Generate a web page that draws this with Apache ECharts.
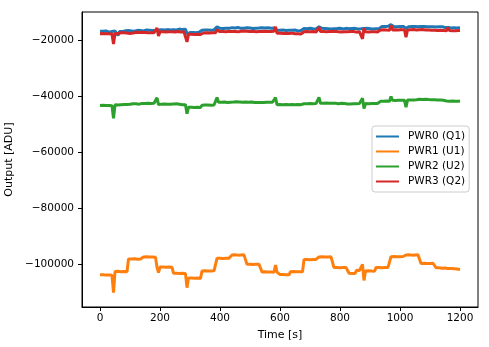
<!DOCTYPE html>
<html>
<head>
<meta charset="utf-8">
<script src="https://cdn.jsdelivr.net/npm/echarts@6/dist/echarts.min.js"></script>
<style>html,body{margin:0;padding:0;background:#fff}#c{width:489px;height:347px}</style>
</head>
<body>
<div id="c"></div>
<script>
// Sampling interval of the readings below, seconds (t = 0 ... 1200)
const SAMPLE_STEP_S = 5;

const seriesNames = ['PWR0 (Q1)', 'PWR1 (U1)', 'PWR2 (U2)', 'PWR3 (Q2)'];
const xTicks = [0, 200, 400, 600, 800, 1000, 1200];
const yTicks = [-100000, -80000, -60000, -40000, -20000];

const pwr0 = [
-16650,-16950,-16700,-16900,-16600,-16850,-17000,-16750,-16800,
-17300,
-16600,-16800,
-18200,
-16750,-16550,-16800,-16600,-16500,-16700,-16450,-16650,-16550,-16400,-16700,-16500,-16350,-16600,-16450,-16300,-16550,-16400,-16250,-16500,-16350,-16200,-16450,-16300,-16400,
-15700,
-16200,-15950,-16150,-16000,-16250,-15900,-16100,-16050,-16200,-15950,-16150,-16000,-16250,-16050,-15900,-16150,-16100,-16250,-16000,
-17600,
-16900,-17150,-16850,-17100,-16950,-17200,-16900,-17050,-16950,
-16300,-16450,-16200,-16400,-16250,-16500,-16300,-16400,-16200,-16350,
-15100,
-15450,-15650,-15500,-15700,-15400,-15600,-15450,-15650,-15550,-15400,-15700,-15500,-15600,-15350,-15550,-15650,-15450,-15600,-15500,-15400,-15650,-15550,-15450,-15700,-15500,-15600,-15400,-15550,-15650,-15450,-15600,-15500,-15700,-15450,-15550,-15600,-15400,-15550,
-15000,
-16300,-16500,-16350,-16550,-16250,-16450,-16400,-16600,-16300,-16450,-16350,-16500,-16250,-16400,-16550,-16350,-16450,-16300,
-15700,-15900,-15750,-15850,-15650,-15900,-15800,-15700,-15850,-15750,
-15100,
-15800,-15650,-15850,-15700,-15600,-15800,-15750,-15900,-15650,-15750,-15850,-15700,-15800,-15600,-15750,-15850,-15700,-15650,-15800,-15750,-15900,-15700,-15800,-15650,-15750,-15850,-15700,-15800,
-15200,
-15700,-15850,-15650,-15800,-15750,-15600,-15850,-15700,-15800,-15650,-15750,
-15100,-14950,-15150,-15000,-15200,-14900,-15050,
-14300,
-14950,-15100,-14900,-15050,-14850,-15000,-15150,-14950,-15050,-15600,-14900,-15050,-14850,-15000,-14800,-14950,-14850,-15050,-14800,-14950,-14850,-15000,-14900,-15100,-14950,-15050,-14900,-15100,-15000,-15150,-14950,-15100,-15200,-15050,-15250,
-15350,-15500,-15300,-15450,-15550,-15350,-15450,-15300,-15500,-15400,-15450
];

const pwr1 = [
-103800,-104150,-103750,-104050,-103900,-104200,-103850,-104000,-103950,
-110200,
-102600,-102900,-102550,-102850,-102700,-102950,-102600,-102800,-102700,
-98100,-98400,-98150,-98350,-98050,-98300,-98200,-98450,-98150,-98300,
-97400,-97650,-97350,-97550,-97450,-97700,-97400,-97600,-97500,
-101100,-103000,-101000,-101250,-100950,-101200,-101050,-101300,-101000,-101150,-101100,
-103200,-103500,-103250,-103450,-103300,-103550,-103250,-103400,-103350,
-108400,
-104900,-105250,-104950,-105300,-105000,-105200,-104950,-105250,-105100,
-102400,-102650,-102350,-102600,-102450,-102700,-102400,-102550,-102350,-102500,
-97900,-98150,-97850,-98100,-97950,-98200,-97900,-98050,-97850,-98000,
-96700,-96950,-96650,-96900,-96750,-97000,-96700,-96850,-96650,-96800,
-100050,-100300,-100000,-100250,-100100,-100350,-100050,-100200,-100000,-100150,
-102750,-103000,-102700,-102950,-102800,-103050,-102750,-102900,-102850,-100300,-102800,-102950,
-103700,-103950,-103650,-103900,-103750,-104000,-103800,
-102650,-102900,-102600,-102850,-102700,-102950,-102650,-102800,-102700,
-98350,-98600,-98300,-98550,-98400,-98650,-98350,-98500,-98300,-98450,
-97400,-97650,-97350,-97600,-97450,-97700,-97400,-97550,-97350,-97500,
-101200,-101450,-101150,-101400,-101250,-101500,-101200,-101350,-101150,-101300,
-103250,-103500,-103300,-103450,-103350,
-102200,-102450,-102250,-102400,
-100100,-105800,
-102400,-102650,-102350,-102600,-102450,-102700,-102500,
-101200,-101450,-101150,-101400,-101250,-101500,-101200,-101350,-101150,-101300,
-97300,-97550,-97250,-97500,-97350,-97600,-97300,-97450,-97250,-97400,
-96700,-96950,-96650,-96900,-96750,-97000,-96700,-96850,-96650,-96800,
-99700,-99950,-99650,-99900,-99750,-100000,-99700,-99850,-99650,-99800,
-101250,-101500,-101300,-101550,-101400,-101600,-101350,-101650,-101500,-101700,-101550,-101800,-101600,-101850,-101700,-101950,-101850
];

const pwr2 = [
-43200,-43450,-43150,-43400,-43250,-43500,-43200,-43350,-43300,
-47800,
-43000,-42850,-43050,-42800,-42950,-42750,-42900,-42700,-42850,-42650,-42800,-42750,-42600,-42850,-42650,-42550,-42750,-42600,-42500,-42700,-42550,-42650,-42450,-42600,-42500,-42650,-42450,-42550,
-40500,
-42900,-42600,-42750,-42550,-42700,-42600,-42800,-42650,-42750,-42550,-42700,-42850,-42650,-42900,-42800,-43050,-42950,-43150,-43000,
-46200,
-43900,-44150,-43850,-44100,-43950,-44200,-43900,-44050,-43950,
-43150,-43300,-43050,-43250,-43100,-43350,-43150,-43250,-43050,-43200,
-40400,
-42050,-41900,-42100,-41850,-42000,-41950,-42150,-41900,-42050,-41850,-42000,-42100,-41900,-42050,-41950,-41850,-42100,-41950,-42000,-41900,-42050,-42150,-42000,-42250,-42200,-42350,-42150,-42300,-42200,-42400,-42200,-42300,-42100,-42250,-42050,-42200,-42100,-42250,
-40400,
-42950,-43100,-42900,-43150,-42950,-43050,-42850,-43100,-43000,-43150,-42900,-43050,-42950,-43100,-42850,-43000,-42950,-42800,
-42600,-42450,-42650,-42400,-42550,-42450,-42600,-42350,-42550,-42450,
-40300,
-42450,-42600,-42400,-42550,-42350,-42500,-42450,-42600,-42400,-42550,-42450,-42350,-42600,-42500,-42450,-42600,-42550,-42750,-42700,-42850,-42700,-42800,-42650,-42850,-42600,-42700,-42550,-42650,
-40600,
-44300,-42550,-42400,-42600,-42450,-42550,-42350,-42500,-42400,-42550,-42350,
-41750,-41900,-41700,-41850,-41650,-41800,-41750,
-40000,
-41400,-41250,-41450,-41300,-41400,-41200,-41350,-41250,-41400,-43800,-41300,-41150,-41300,-41100,-41250,-41050,-41200,-41100,-41000,-41200,-41050,-41150,-41000,-41200,-41100,-41250,-41150,-41300,-41200,-41350,-41250,-41400,-41300,-41450,-41350,
-41500,-41650,-41550,-41700,-41500,-41650,-41600,-41750,-41550,-41700,-41650
];

const pwr3 = [
-17550,-17800,-17500,-17750,-17600,-17850,-17550,-17700,-17650,
-21300,
-17400,-17200,
-17600,
-17350,-17150,-17400,-17250,-17100,-17350,-17200,-17450,-17150,-17300,-17200,-17050,-17350,-17150,-17250,-17050,-17300,-17150,-17000,-17250,-17100,-17200,-17000,-17250,-17100,
-15500,
-18400,-16900,-17100,-16850,-17050,-16950,-17150,-16900,-17050,-16850,-17100,-16950,-17000,-16800,-17100,-16950,-17050,-16900,-17100,
-20500,
-17800,-18050,-17750,-18000,-17850,-18100,-17800,-17950,-17850,
-17150,-17300,-17050,-17250,-17100,-17350,-17150,-17250,-17050,-17200,
-16200,
-16650,-16800,-16550,-16750,-16600,-16850,-16650,-16700,-16550,-16800,-16600,-16750,-16650,-16900,-16550,-16700,-16800,-16600,-16750,-16650,-16500,-16800,-16650,-16700,-16550,-16850,-16600,-16750,-16650,-16800,-16550,-16700,-16650,-16800,-16600,-16750,-16650,-16700,
-15100,
-17400,-17600,-17350,-17550,-17450,-17650,-17400,-17550,-17500,-17700,-17350,-17500,-17600,-17400,-17550,-17450,-17650,-17400,
-16850,-16950,-16800,-17000,-16850,-16950,-16750,-16900,-17000,-16850,
-15300,
-16800,-16950,-16750,-16900,-16850,-17000,-16750,-16900,-16800,-16950,-16700,-16850,-16900,-16750,-16950,-16800,-16900,-16700,-16850,-16950,-16800,-16900,-16750,-16850,-17000,-16800,-16900,-16750,
-19400,
-15600,-16900,-16750,-16950,-16800,-16850,-16700,-16900,-16800,-16950,-16800,
-16200,-16350,-16150,-16300,-16250,-16100,-16300,
-14600,
-16200,-16350,-16150,-16300,-16200,-16350,-16100,-16300,-16250,-18800,-16200,-16300,-16150,-16250,-16100,-16300,-16200,-16350,-16150,-16250,-16100,-16300,-16200,-16350,-16250,-16150,-16300,-16200,-16350,-16250,-16400,-16200,-16350,-16300,-16450,
-16400,-16550,-15400,-16450,-16350,-16550,-16400,-16500,-16350,-16450,-16400
];

const colors = ['#1f77b4', '#ff7f0e', '#2ca02c', '#d62728'];
const allValues = [pwr0, pwr1, pwr2, pwr3];
const sampleTimes = pwr0.map((_, i) => i * SAMPLE_STEP_S);

const FONT = 'DejaVu Sans';
const fmtMinus = v => String(v).replace('-', '\u2212');

const chart = echarts.init(document.getElementById('c'), null, { renderer: 'canvas' });
chart.setOption({
  animation: false,
  backgroundColor: '#fff',
  grid: {
    left: 82, right: 11, top: 12, bottom: 40,
    outerBoundsMode: 'none',
    show: true, borderColor: '#000', borderWidth: 1, backgroundColor: 'transparent'
  },
  legend: {
    orient: 'vertical',
    left: 372, top: 126,
    padding: [4, 4, 4, 4],
    itemGap: 2,
    itemWidth: 23, itemHeight: 2,
    icon: 'rect',
    borderColor: '#cccccc', borderWidth: 1, borderRadius: 3,
    backgroundColor: 'rgba(255,255,255,0.8)',
    textStyle: { fontFamily: FONT, fontSize: 10.5, color: '#000', lineHeight: 13, padding: [0, 0, 0, 4] },
    data: seriesNames
  },
  xAxis: {
    type: 'value', min: -60, max: 1260,
    name: 'Time [s]', nameLocation: 'middle', nameGap: 23,
    nameTextStyle: { fontFamily: FONT, fontSize: 11, color: '#000' },
    axisLine: { show: true, onZero: false, lineStyle: { color: '#000', width: 1 } },
    axisTick: { show: true, length: 4, customValues: xTicks, lineStyle: { color: '#000' } },
    axisLabel: { customValues: xTicks, margin: 6, fontFamily: FONT, fontSize: 10.5, color: '#000', formatter: v => String(v) },
    splitLine: { show: false }
  },
  yAxis: {
    type: 'value', min: -115300, max: -9800,
    name: 'Output [ADU]', nameLocation: 'middle', nameGap: 62,
    nameTextStyle: { fontFamily: FONT, fontSize: 11, color: '#000' },
    axisLine: { show: true, onZero: false, lineStyle: { color: '#000', width: 1 } },
    axisTick: { show: true, length: 4, customValues: yTicks, lineStyle: { color: '#000' } },
    axisLabel: { customValues: yTicks, margin: 8, fontFamily: FONT, fontSize: 10.5, color: '#000', formatter: fmtMinus },
    splitLine: { show: false }
  },
  series: seriesNames.map((name, k) => ({
    name,
    type: 'line',
    showSymbol: false,
    symbol: 'none',
    color: colors[k],
    lineStyle: { width: 3, color: colors[k] },
    data: allValues[k].map((v, i) => [sampleTimes[i], v])
  }))
});
</script>
</body>
</html>
